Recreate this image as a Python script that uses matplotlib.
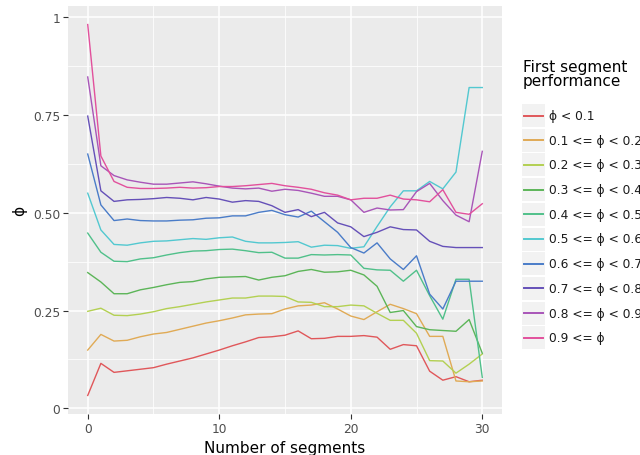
import matplotlib
matplotlib.use("Agg")
import matplotlib.pyplot as plt
from matplotlib.lines import Line2D
from matplotlib.patches import Rectangle
from matplotlib.ticker import FixedLocator
import numpy as np

segments = list(range(31))

labels = [
    "ϕ < 0.1",
    "0.1 <= ϕ < 0.2",
    "0.2 <= ϕ < 0.3",
    "0.3 <= ϕ < 0.4",
    "0.4 <= ϕ < 0.5",
    "0.5 <= ϕ < 0.6",
    "0.6 <= ϕ < 0.7",
    "0.7 <= ϕ < 0.8",
    "0.8 <= ϕ < 0.9",
    "0.9 <= ϕ",
]

phi_00 = [0.033, 0.115, 0.092, 0.096, 0.100, 0.104, 0.113, 0.121, 0.129, 0.139, 0.149,
          0.160, 0.170, 0.181, 0.183, 0.187, 0.198, 0.178, 0.179, 0.184, 0.184,
          0.186, 0.182, 0.151, 0.163, 0.160, 0.095, 0.072, 0.081, 0.068, 0.072]
phi_01 = [0.149, 0.189, 0.172, 0.174, 0.183, 0.190, 0.194, 0.202, 0.210, 0.218, 0.224,
          0.231, 0.239, 0.241, 0.242, 0.254, 0.262, 0.264, 0.270, 0.254, 0.236,
          0.227, 0.247, 0.266, 0.255, 0.242, 0.184, 0.184, 0.070, 0.068, 0.070]
phi_02 = [0.248, 0.256, 0.238, 0.237, 0.241, 0.247, 0.255, 0.260, 0.266, 0.272, 0.277,
          0.282, 0.282, 0.287, 0.287, 0.286, 0.272, 0.271, 0.260, 0.260, 0.264,
          0.262, 0.243, 0.225, 0.225, 0.192, 0.122, 0.121, 0.090, 0.113, 0.139]
phi_03 = [0.347, 0.323, 0.293, 0.293, 0.303, 0.309, 0.316, 0.322, 0.324, 0.331, 0.335,
          0.336, 0.337, 0.328, 0.335, 0.339, 0.350, 0.355, 0.348, 0.349, 0.353,
          0.341, 0.312, 0.245, 0.250, 0.209, 0.201, 0.199, 0.197, 0.227, 0.141]
phi_04 = [0.448, 0.399, 0.376, 0.375, 0.382, 0.385, 0.392, 0.398, 0.402, 0.403, 0.406,
          0.407, 0.403, 0.398, 0.399, 0.384, 0.384, 0.393, 0.392, 0.393, 0.392,
          0.358, 0.354, 0.353, 0.325, 0.353, 0.288, 0.228, 0.330, 0.330, 0.079]
phi_05 = [0.550, 0.456, 0.419, 0.417, 0.423, 0.427, 0.428, 0.431, 0.434, 0.432, 0.436,
          0.438, 0.427, 0.423, 0.423, 0.424, 0.426, 0.412, 0.417, 0.416, 0.409,
          0.413, 0.465, 0.515, 0.556, 0.556, 0.580, 0.561, 0.604, 0.820, 0.820]
phi_06 = [0.650, 0.520, 0.480, 0.484, 0.480, 0.479, 0.479, 0.481, 0.482, 0.486, 0.487,
          0.492, 0.492, 0.501, 0.506, 0.495, 0.489, 0.504, 0.477, 0.450, 0.411,
          0.397, 0.423, 0.382, 0.355, 0.390, 0.292, 0.254, 0.325, 0.325, 0.325]
phi_07 = [0.747, 0.556, 0.529, 0.533, 0.534, 0.536, 0.539, 0.537, 0.533, 0.539, 0.535,
          0.527, 0.531, 0.529, 0.518, 0.501, 0.508, 0.490, 0.501, 0.474, 0.464,
          0.439, 0.450, 0.464, 0.457, 0.456, 0.427, 0.414, 0.411, 0.411, 0.411]
phi_08 = [0.847, 0.620, 0.595, 0.584, 0.578, 0.573, 0.573, 0.576, 0.579, 0.574, 0.568,
          0.563, 0.561, 0.563, 0.555, 0.560, 0.557, 0.550, 0.542, 0.542, 0.533,
          0.501, 0.512, 0.507, 0.508, 0.554, 0.575, 0.531, 0.494, 0.477, 0.657]
phi_09 = [0.981, 0.645, 0.580, 0.565, 0.562, 0.562, 0.563, 0.565, 0.563, 0.564, 0.567,
          0.567, 0.569, 0.572, 0.575, 0.569, 0.565, 0.560, 0.551, 0.545, 0.533,
          0.537, 0.537, 0.545, 0.535, 0.533, 0.528, 0.559, 0.501, 0.496, 0.523]

series = [phi_00, phi_01, phi_02, phi_03, phi_04, phi_05, phi_06, phi_07, phi_08, phi_09]

colors = ["#E0575A", "#E0AA55", "#B3D052", "#5CB558", "#50C08A",
          "#52C8D0", "#4A7CC8", "#6550B8", "#A855B8", "#E2509C"]

W, H = 640, 456
fig = plt.figure(figsize=(W / 100, H / 100), dpi=100)
ax = fig.add_axes([68 / W, (H - 415) / H, (502 - 68) / W, (415 - 7) / H])
ax.set_facecolor("#EBEBEB")

for vals, col, lab in zip(series, colors, labels):
    ax.plot(segments, vals, color=col, lw=1.0, label=lab)

# 5% padding round the data range
allv = np.concatenate([np.asarray(s) for s in series])
ypad = 0.05 * (allv.max() - allv.min())
ax.set_ylim(allv.min() - ypad, allv.max() + ypad)
xpad = 0.05 * (max(segments) - min(segments))
ax.set_xlim(min(segments) - xpad, max(segments) + xpad)

ax.xaxis.set_major_locator(FixedLocator([0, 10, 20, 30]))
ax.xaxis.set_minor_locator(FixedLocator([5, 15, 25]))
ax.yaxis.set_major_locator(FixedLocator([0, 0.25, 0.5, 0.75, 1]))
ax.yaxis.set_minor_locator(FixedLocator([0.125, 0.375, 0.625, 0.875]))
ax.set_xticklabels(["0", "10", "20", "30"])
ax.set_yticklabels(["0", "0.25", "0.50", "0.75", "1"])

ax.grid(which="major", color="white", lw=1.1)
ax.grid(which="minor", color="white", lw=0.55)
ax.set_axisbelow(True)
for sp in ax.spines.values():
    sp.set_visible(False)
ax.tick_params(which="major", length=3.5, width=0.8, color="#333333",
               labelcolor="#4D4D4D", labelsize=8.8, pad=2)
ax.tick_params(which="minor", length=0)

ax.set_xlabel("Number of segments", fontsize=11, color="black", labelpad=4)
ax.set_ylabel("ϕ", fontsize=11, color="black", labelpad=4)

# legend drawn by hand so every key gets its grey box
fig.text(523 / W, 1 - 60 / H, "First segment\nperformance", fontsize=11,
         va="top", ha="left", linespacing=0.9)
for i, (col, lab) in enumerate(zip(colors, labels)):
    top = 105 + 24.7 * i
    fig.patches.append(Rectangle((522 / W, 1 - (top + 23) / H), 23 / W, 23 / H,
                                 transform=fig.transFigure, facecolor="#F2F2F2",
                                 edgecolor="none"))
    yc = 1 - (top + 11.5) / H
    fig.lines.append(Line2D([524 / W, 543 / W], [yc, yc], transform=fig.transFigure,
                            color=col, lw=1.4))
    fig.text(549 / W, yc, lab, fontsize=8.8, va="center", ha="left", color="#1A1A1A")

fig.savefig("out.png", dpi=100)
